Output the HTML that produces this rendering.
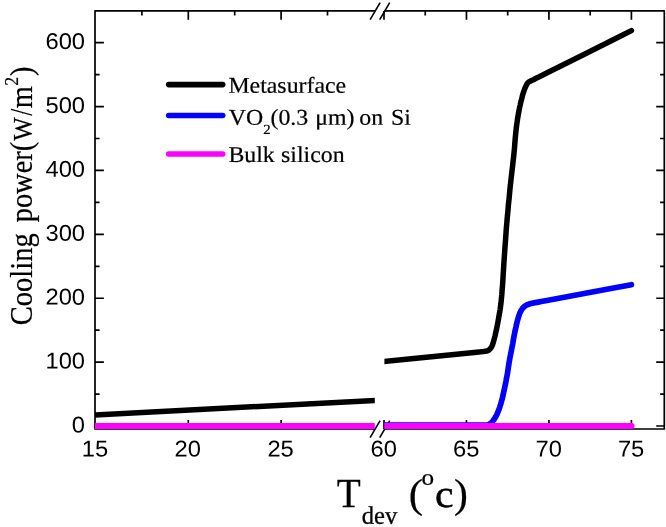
<!DOCTYPE html>
<html><head><meta charset="utf-8"><title>Cooling power vs Tdev</title>
<style>html,body{margin:0;padding:0;background:#fff}svg{display:block;will-change:transform}</style></head>
<body>
<svg width="666" height="527" viewBox="0 0 666 527" role="img" aria-label="Cooling power versus device temperature">
<rect width="666" height="527" fill="#fff"/>
<g stroke="#000" stroke-width="1.7" fill="none" stroke-linejoin="round">
<path d="M375.2 10.9H95.0V429.0H375.2"/>
<path d="M384.4 10.9H664.3V429.0H384.4"/>
</g>
<path d="M95.0 426.00h8.9M664.3 426.00h-8.1M95.0 394.06h4.6M664.3 394.06h-4.199999999999999M95.0 362.12h8.9M664.3 362.12h-8.1M95.0 330.18h4.6M664.3 330.18h-4.199999999999999M95.0 298.23h8.9M664.3 298.23h-8.1M95.0 266.29h4.6M664.3 266.29h-4.199999999999999M95.0 234.35h8.9M664.3 234.35h-8.1M95.0 202.41h4.6M664.3 202.41h-4.199999999999999M95.0 170.47h8.9M664.3 170.47h-8.1M95.0 138.52h4.6M664.3 138.52h-4.199999999999999M95.0 106.58h8.9M664.3 106.58h-8.1M95.0 74.64h4.6M664.3 74.64h-4.199999999999999M95.0 42.70h8.9M664.3 42.70h-8.1M188.30 10.9v8.9M188.30 429.0v-8.9M281.10 10.9v8.9M281.10 429.0v-8.9M141.90 10.9v4.6M141.90 429.0v-4.6M234.70 10.9v4.6M234.70 429.0v-4.6M327.50 10.9v4.6M327.50 429.0v-4.6M384.00 10.9v8.9M384.00 429.0v-8.9M466.47 10.9v8.9M466.47 429.0v-8.9M548.93 10.9v8.9M548.93 429.0v-8.9M631.40 10.9v8.9M631.40 429.0v-8.9M425.23 10.9v4.6M425.23 429.0v-4.6M507.70 10.9v4.6M507.70 429.0v-4.6M590.17 10.9v4.6M590.17 429.0v-4.6" stroke="#000" stroke-width="1.7" fill="none"/>
<g stroke="#000" stroke-width="1.6" stroke-linecap="butt">
<line x1="370.1" y1="19.6" x2="380.1" y2="2.5999999999999996"/>
<line x1="379.7" y1="19.6" x2="389.7" y2="2.5999999999999996"/>
<line x1="370.1" y1="437.6" x2="380.1" y2="420.6"/>
<line x1="379.7" y1="437.6" x2="389.7" y2="420.6"/>
</g>
<defs><clipPath id="cl"><rect x="95.0" y="0" width="279.8" height="527"/></clipPath><clipPath id="cr"><rect x="384.4" y="0" width="300" height="527"/></clipPath></defs>
<path clip-path="url(#cl)" d="M87.5 415.28L382.8 400.00" stroke="#000" stroke-width="5.5" fill="none"/>
<path clip-path="url(#cr)" d="M376.0 362.3L416.3 358.3L456.7 354.2L479.1 351.9L480.6 351.8L483.5 351.5L485.0 351.3L486.5 351.0L487.9 350.6L489.2 349.8L490.3 348.7L491.2 347.5L491.9 346.2L492.5 344.9L493.0 343.4L493.4 342.0L493.8 340.5L494.2 339.1L494.6 337.6L495.0 336.1L495.6 333.2L496.6 328.8L497.2 325.9L497.8 322.9L498.3 320.0L498.8 317.0L499.6 312.6L500.1 309.6L500.5 306.6L500.7 305.2L500.9 303.7L501.2 300.7L501.5 297.7L501.8 294.7L502.1 290.2L502.5 285.7L502.9 279.7L503.8 264.7L504.2 258.8L505.0 246.8L505.7 237.8L506.2 230.3L506.7 224.3L507.2 218.3L507.8 212.4L508.4 204.9L509.2 197.4L510.0 188.4L510.5 184.0L511.0 179.5L511.7 173.5L512.9 163.1L513.4 158.6L513.9 154.1L514.2 151.1L514.5 148.1L514.8 143.7L515.3 137.7L515.6 134.7L515.9 131.7L516.2 128.7L516.6 125.7L517.0 122.8L517.4 119.8L517.9 116.8L518.4 113.9L519.0 110.9L519.5 108.0L520.2 105.0L520.8 102.1L521.6 99.2L522.3 96.3L522.7 94.8L523.1 93.4L523.6 92.0L524.1 90.5L524.6 89.1L525.2 87.7L525.8 86.3L526.4 85.0L527.2 83.7L528.1 82.5L529.4 81.7L530.7 81.0L532.1 80.3L533.4 79.7L536.1 78.3L538.8 77.0L548.2 72.3L584.4 54.2L620.7 36.0L631.4 30.6" stroke="#000" stroke-width="5.5" fill="none" stroke-linejoin="round" stroke-linecap="round"/>
<path clip-path="url(#cr)" d="M376.0 425.1L416.6 425.1L457.3 425.1L484.4 425.1L485.9 425.1L487.4 425.0L488.8 424.6L490.1 423.8L491.3 422.9L492.3 421.8L493.2 420.5L494.1 419.3L494.9 418.1L495.7 416.8L496.4 415.4L497.1 414.1L497.7 412.7L498.2 411.3L498.8 409.9L499.8 407.1L500.2 405.6L500.7 404.2L501.1 402.8L501.5 401.3L501.9 399.9L502.3 398.4L503.0 395.5L503.6 392.5L505.2 385.2L506.1 380.7L506.6 377.8L507.2 374.8L507.5 373.3L507.9 370.4L508.8 364.4L509.3 361.4L509.8 358.5L510.4 355.5L512.1 346.7L512.7 343.7L514.0 336.3L514.6 333.3L515.2 330.4L515.9 327.4L516.5 324.5L516.9 323.0L517.2 321.6L517.6 320.1L518.0 318.7L518.4 317.2L518.9 315.8L519.4 314.4L519.9 312.9L520.6 311.6L521.2 310.3L522.1 309.0L523.0 307.8L524.1 306.8L525.3 305.8L526.5 305.0L527.9 304.5L529.4 304.0L530.8 303.6L532.3 303.2L533.8 302.9L535.2 302.6L538.2 302.1L542.6 301.3L545.6 300.8L585.5 293.3L612.2 288.3L631.4 284.7" stroke="#0000ff" stroke-width="5.7" fill="none" stroke-linejoin="round" stroke-linecap="round"/>
<path clip-path="url(#cl)" d="M87.5 425.9H384" stroke="#ff00ff" stroke-width="6.0" fill="none"/>
<path clip-path="url(#cr)" d="M376 425.9H631.6" stroke="#ff00ff" stroke-width="6.0" fill="none" stroke-linecap="round"/>
<line x1="168.7" y1="84.6" x2="222.7" y2="84.6" stroke="#000" stroke-width="5.6" stroke-linecap="round"/>
<line x1="168.7" y1="115.5" x2="222.7" y2="115.5" stroke="#0000ff" stroke-width="5.6" stroke-linecap="round"/>
<line x1="168.7" y1="154.0" x2="222.7" y2="154.0" stroke="#ff00ff" stroke-width="5.6" stroke-linecap="round"/>
<text transform="translate(85.0 432.4) rotate(0.03) scale(1.04 1)" font-size="22.8" font-family="'Liberation Sans', sans-serif" text-anchor="end" fill="#000">0</text>
<text transform="translate(85.0 368.51666666666665) rotate(0.03) scale(1.04 1)" font-size="22.8" font-family="'Liberation Sans', sans-serif" text-anchor="end" fill="#000">100</text>
<text transform="translate(85.0 304.6333333333333) rotate(0.03) scale(1.04 1)" font-size="22.8" font-family="'Liberation Sans', sans-serif" text-anchor="end" fill="#000">200</text>
<text transform="translate(85.0 240.75) rotate(0.03) scale(1.04 1)" font-size="22.8" font-family="'Liberation Sans', sans-serif" text-anchor="end" fill="#000">300</text>
<text transform="translate(85.0 176.86666666666667) rotate(0.03) scale(1.04 1)" font-size="22.8" font-family="'Liberation Sans', sans-serif" text-anchor="end" fill="#000">400</text>
<text transform="translate(85.0 112.98333333333332) rotate(0.03) scale(1.04 1)" font-size="22.8" font-family="'Liberation Sans', sans-serif" text-anchor="end" fill="#000">500</text>
<text transform="translate(85.0 49.09999999999999) rotate(0.03) scale(1.04 1)" font-size="22.8" font-family="'Liberation Sans', sans-serif" text-anchor="end" fill="#000">600</text>
<text transform="translate(95.0 456.4) rotate(0.03) scale(1.04 1)" font-size="22.8" font-family="'Liberation Sans', sans-serif" text-anchor="middle" fill="#000">15</text>
<text transform="translate(187.8 456.4) rotate(0.03) scale(1.04 1)" font-size="22.8" font-family="'Liberation Sans', sans-serif" text-anchor="middle" fill="#000">20</text>
<text transform="translate(280.6 456.4) rotate(0.03) scale(1.04 1)" font-size="22.8" font-family="'Liberation Sans', sans-serif" text-anchor="middle" fill="#000">25</text>
<text transform="translate(383.7 456.4) rotate(0.03) scale(1.04 1)" font-size="22.8" font-family="'Liberation Sans', sans-serif" text-anchor="middle" fill="#000">60</text>
<text transform="translate(466.1666666666667 456.4) rotate(0.03) scale(1.04 1)" font-size="22.8" font-family="'Liberation Sans', sans-serif" text-anchor="middle" fill="#000">65</text>
<text transform="translate(548.6333333333334 456.4) rotate(0.03) scale(1.04 1)" font-size="22.8" font-family="'Liberation Sans', sans-serif" text-anchor="middle" fill="#000">70</text>
<text transform="translate(631.1 456.4) rotate(0.03) scale(1.04 1)" font-size="22.8" font-family="'Liberation Sans', sans-serif" text-anchor="middle" fill="#000">75</text>
<text transform="translate(228.4 92.8) rotate(0.03) scale(1.055 1)" font-size="22.6" font-family="'Liberation Serif', serif" text-anchor="start" fill="#000" stroke="#000" stroke-width="0.2">Metasurface</text>
<text transform="translate(228.7 124.8) rotate(0.03) scale(1.055 1)" font-size="22.6" font-family="'Liberation Serif', serif" text-anchor="start" fill="#000" stroke="#000" stroke-width="0.2">VO<tspan font-size="14" dy="9.3">2</tspan><tspan dy="-9.3">(0.3</tspan></text>
<text transform="translate(315.2 124.8) rotate(0.03) scale(1.055 1)" font-size="22.6" font-family="'Liberation Serif', serif" text-anchor="start" fill="#000" stroke="#000" stroke-width="0.2">μm)</text>
<text transform="translate(359.3 124.8) rotate(0.03) scale(1.055 1)" font-size="22.6" font-family="'Liberation Serif', serif" text-anchor="start" fill="#000" stroke="#000" stroke-width="0.2">on</text>
<text transform="translate(390.9 124.8) rotate(0.03) scale(1.055 1)" font-size="22.6" font-family="'Liberation Serif', serif" text-anchor="start" fill="#000" stroke="#000" stroke-width="0.2">Si</text>
<text transform="translate(228.4 161.9) rotate(0.03) scale(1.055 1)" font-size="22.6" font-family="'Liberation Serif', serif" text-anchor="start" fill="#000" stroke="#000" stroke-width="0.2">Bulk</text>
<text transform="translate(281.0 161.9) rotate(0.03) scale(1.055 1)" font-size="22.6" font-family="'Liberation Serif', serif" text-anchor="start" fill="#000" stroke="#000" stroke-width="0.2">silicon</text>
<text transform="translate(32.3 325.3) rotate(-90) scale(0.988 1.07)" font-size="28.9" font-family="'Liberation Serif', serif" fill="#000" stroke="#000" stroke-width="0.2">Cooling</text>
<text transform="translate(32.3 222.3) rotate(-90) scale(0.984 1.07)" font-size="28.9" font-family="'Liberation Serif', serif" fill="#000" stroke="#000" stroke-width="0.2">power(</text>
<text transform="translate(32.3 140.7) rotate(-90) scale(0.86 0.95)" font-size="28.9" font-family="'Liberation Serif', serif" fill="#000" stroke="#000" stroke-width="0.2">W</text>
<text transform="translate(32.3 115.75) rotate(-90) scale(0.86 1.07)" font-size="28.9" font-family="'Liberation Serif', serif" fill="#000" stroke="#000" stroke-width="0.2">/</text>
<text transform="translate(32.3 108.35) rotate(-90) scale(0.984 1.07)" font-size="28.9" font-family="'Liberation Serif', serif" fill="#000" stroke="#000" stroke-width="0.2">m</text>
<text transform="translate(17.747999999999998 85.8) rotate(-90) scale(0.984 1.07)" font-size="18" font-family="'Liberation Serif', serif" fill="#000" stroke="#000" stroke-width="0.2">2</text>
<text transform="translate(32.3 76.1) rotate(-90) scale(0.984 1.07)" font-size="28.9" font-family="'Liberation Serif', serif" fill="#000" stroke="#000" stroke-width="0.2">)</text>
<text transform="translate(336.8 507.0) rotate(0.03) scale(0.95 1)" font-size="41.3" font-family="'Liberation Serif', serif" text-anchor="start" fill="#000" stroke="#000" stroke-width="0.25">T</text>
<text transform="translate(361.8 523.7) rotate(0.03) scale(0.975 1)" font-size="25.2" font-family="'Liberation Serif', serif" text-anchor="start" fill="#000" stroke="#000" stroke-width="0.3">dev</text>
<text transform="translate(408.8 507.2) rotate(0.03) scale(1.05 1)" font-size="40.8" font-family="'Liberation Serif', serif" text-anchor="start" fill="#000" stroke="#000" stroke-width="0.25">(</text>
<text transform="translate(421.6 484.8) rotate(0.03) scale(1.12 1)" font-size="22.5" font-family="'Liberation Serif', serif" text-anchor="start" fill="#000" stroke="#000" stroke-width="0.25">o</text>
<text transform="translate(435.1 507.1) rotate(0.03) scale(1.08 1)" font-size="38.6" font-family="'Liberation Serif', serif" text-anchor="start" fill="#000" stroke="#000" stroke-width="0.5">c</text>
<text transform="translate(453.9 507.2) rotate(0.03) scale(1.02 1)" font-size="40.8" font-family="'Liberation Serif', serif" text-anchor="start" fill="#000" stroke="#000" stroke-width="0.25">)</text>
</svg>
</body></html>
